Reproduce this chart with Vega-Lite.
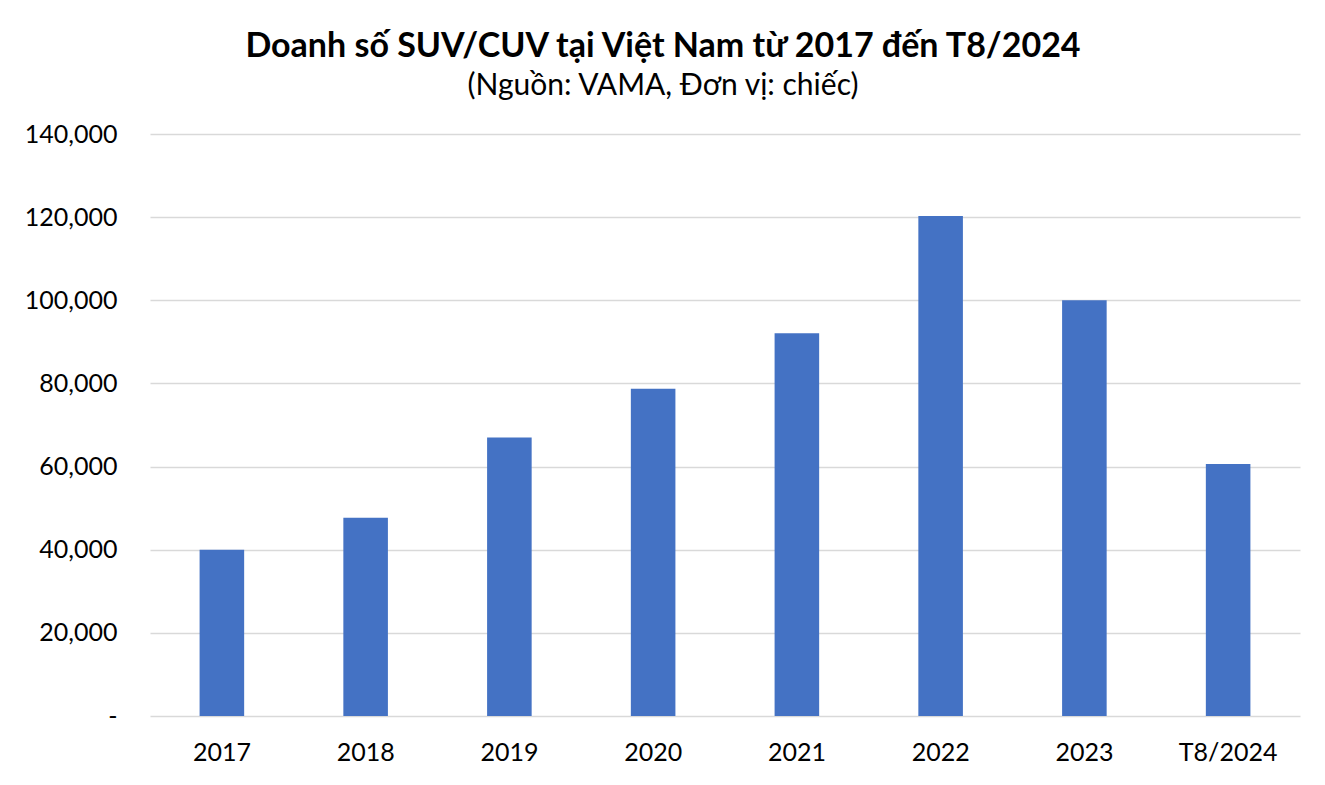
{
  "$schema": "https://vega.github.io/schema/vega-lite/v6.json",
  "width": 1150,
  "height": 582,
  "autosize": {"type": "none"},
  "padding": {"left": 150, "top": 134, "right": 25, "bottom": 69},
  "background": "white",
  "title": {
    "text": "Doanh số SUV/CUV tại Việt Nam từ 2017 đến T8/2024",
    "subtitle": "(Nguồn: VAMA, Đơn vị: chiếc)",
    "anchor": "middle",
    "frame": "group",
    "dx": -62,
    "font": "Lato",
    "fontSize": 34,
    "fontWeight": "bold",
    "color": "black",
    "subtitleFont": "Lato",
    "subtitleFontSize": 30,
    "subtitleColor": "black",
    "subtitlePadding": 7,
    "offset": 21
  },
  "data": {
    "values": [
      {"year": "2017", "sales": 40000},
      {"year": "2018", "sales": 47700},
      {"year": "2019", "sales": 67000},
      {"year": "2020", "sales": 78700},
      {"year": "2021", "sales": 92100},
      {"year": "2022", "sales": 120300},
      {"year": "2023", "sales": 100000},
      {"year": "T8/2024", "sales": 60600}
    ]
  },
  "mark": {"type": "bar", "color": "#4472C4"},
  "encoding": {
    "x": {
      "field": "year",
      "type": "nominal",
      "sort": null,
      "scale": {"paddingInner": 0.69, "paddingOuter": 0.345},
      "axis": {
        "title": null,
        "labelAngle": 0,
        "labelFont": "Lato",
        "labelFontSize": 25,
        "labelColor": "black",
        "labelPadding": 24,
        "ticks": false,
        "domain": false
      }
    },
    "y": {
      "field": "sales",
      "type": "quantitative",
      "scale": {"domain": [0, 140000]},
      "axis": {
        "title": null,
        "values": [0, 20000, 40000, 60000, 80000, 100000, 120000, 140000],
        "labelExpr": "datum.value == 0 ? '-' : format(datum.value, ',')",
        "labelFont": "Lato",
        "labelFontSize": 25,
        "labelColor": "black",
        "labelPadding": 33,
        "ticks": false,
        "domain": false,
        "gridColor": "#d9d9d9",
        "gridWidth": 1.5
      }
    }
  },
  "config": {"view": {"stroke": null}}
}
